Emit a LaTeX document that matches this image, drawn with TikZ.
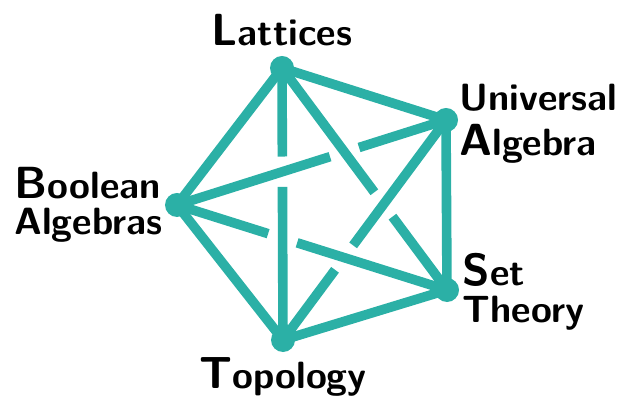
\documentclass[tikz,border=0pt]{standalone}
\usetikzlibrary{positioning, calc}

\definecolor{graphteal}{RGB}{43,176,166}
\newcommand{\firstletter}[1]{{\fontsize{32}{26}\selectfont #1}}
\newcommand{\gapsize}{0.38cm}

\begin{document}
\begin{tikzpicture}[
  x=0.025cm, y=-0.025cm,
  dot/.style={circle, fill=graphteal, inner sep=0pt, minimum size=0.6cm},
  edge/.style={draw=graphteal, line width=0.24cm},
  subject/.style={font=\fontsize{27}{26}\selectfont\sffamily\bfseries,
                  inner sep=0pt, align=left}
]
\useasboundingbox (0,0) rectangle (619,399);

% the five subjects
\node[dot] (lat) at (282,68)  {};
\node[dot] (uni) at (446,120) {};
\node[dot] (set) at (447,290) {};
\node[dot] (top) at (283,340) {};
\node[dot] (boo) at (177,205) {};

\node[subject, above=0.25cm of lat] (latlabel) {\firstletter{L}attices};
\node[subject, right=0.02cm of uni, yshift=-0.1cm] (unilabel) {Universal\\[6pt]\firstletter{A}lgebra};
\node[subject, right=0.08cm of set, yshift=-0.05cm] (setlabel) {\firstletter{S}et\\Theory};
\node[subject, below=0.12cm of top]  (toplabel) {\firstletter{T}opology};
\node[subject, left=0.05cm of boo]  (boolabel) {\firstletter{B}oolean\\Algebras};

% outer pentagon
\draw[edge] (lat.center) -- (uni.center);
\draw[edge] (uni.center) -- (set.center);
\draw[edge] (set.center) -- (top.center);
\draw[edge] (top.center) -- (boo.center);
\draw[edge] (boo.center) -- (lat.center);

% crossings of the diagonals
\coordinate (x1) at (intersection of lat--top and uni--boo);
\coordinate (x2) at (intersection of uni--boo and lat--set);
\coordinate (x3) at (intersection of lat--set and uni--top);
\coordinate (x4) at (intersection of uni--top and boo--set);
\coordinate (x5) at (intersection of boo--set and lat--top);

% diagonals, each broken where it passes under
\draw[edge] (lat.center) -- ($(x1)!\gapsize!(lat)$);
\draw[edge] ($(x1)!\gapsize!(top)$) -- (top.center);
\draw[edge] (uni.center) -- ($(x2)!\gapsize!(uni)$);
\draw[edge] ($(x2)!\gapsize!(boo)$) -- (boo.center);
\draw[edge] (lat.center) -- ($(x3)!\gapsize!(lat)$);
\draw[edge] ($(x3)!\gapsize!(set)$) -- (set.center);
\draw[edge] (uni.center) -- ($(x4)!\gapsize!(uni)$);
\draw[edge] ($(x4)!\gapsize!(top)$) -- (top.center);
\draw[edge] (boo.center) -- ($(x5)!\gapsize!(boo)$);
\draw[edge] ($(x5)!\gapsize!(set)$) -- (set.center);
\end{tikzpicture}
\end{document}
